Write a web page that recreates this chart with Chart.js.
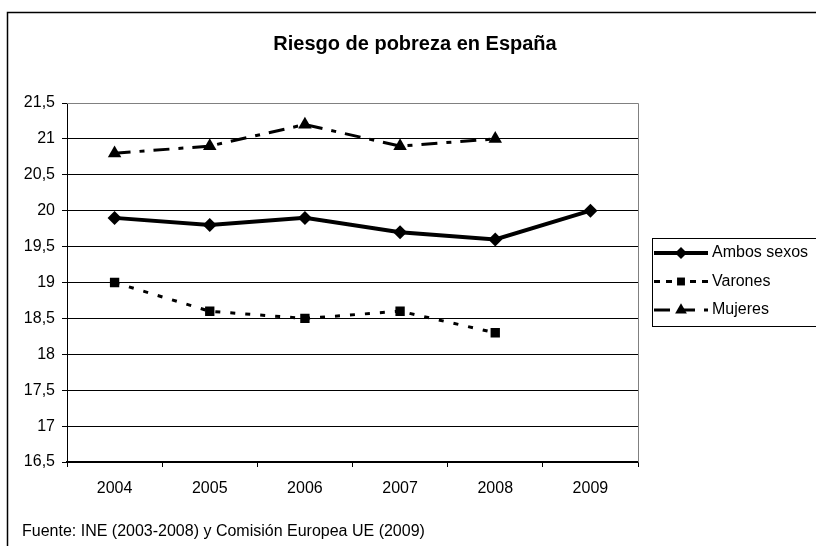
<!DOCTYPE html>
<html>
<head>
<meta charset="utf-8">
<script src="https://cdn.jsdelivr.net/npm/chart.js@4/dist/chart.umd.min.js"></script>
<style>
    body { margin: 0; background: #ffffff; }
    canvas { display: block; }
</style>
</head>
<body>
<canvas id="povertyChart" width="816" height="546"></canvas>
<script>
// Chart data
const years = ['2004', '2005', '2006', '2007', '2008', '2009'];
const ambosSexos = [19.9, 19.8, 19.9, 19.7, 19.6, 20.0];
const varones = [19.0, 18.6, 18.5, 18.6, 18.3, null];
const mujeres = [20.8, 20.9, 21.2, 20.9, 21.0, null];
const yTicks = [16.5, 17, 17.5, 18, 18.5, 19, 19.5, 20, 20.5, 21, 21.5];
const chartTitle = 'Riesgo de pobreza en España';
const sourceNote = 'Fuente: INE (2003-2008) y Comisión Europea UE (2009)';

const FONT = '"Liberation Sans", Arial, sans-serif';

// Draw a legend marker like the ones on the lines
function drawMarker(ctx, style, radius, x, y) {
    ctx.save();
    ctx.fillStyle = '#000';
    ctx.beginPath();
    if (style === 'rectRot') {
        ctx.moveTo(x, y - radius);
        ctx.lineTo(x + radius, y);
        ctx.lineTo(x, y + radius);
        ctx.lineTo(x - radius, y);
    } else if (style === 'rect') {
        const s = radius * Math.SQRT1_2;
        ctx.rect(x - s, y - s, 2 * s, 2 * s);
    } else {
        const h = radius * 1.5;
        const w = radius * Math.sqrt(3) / 2;
        ctx.moveTo(x, y - radius);
        ctx.lineTo(x + w, y + h - radius);
        ctx.lineTo(x - w, y + h - radius);
    }
    ctx.closePath();
    ctx.fill();
    ctx.restore();
}

// Frame, title, footer and boxed legend
const excelFrame = {
    id: 'excelFrame',
    beforeDraw(chart) {
        const ctx = chart.ctx;
        ctx.save();
        ctx.fillStyle = '#ffffff';
        ctx.fillRect(0, 0, chart.width, chart.height);
        ctx.restore();
    },
    afterDraw(chart) {
        const ctx = chart.ctx;
        const area = chart.chartArea;
        ctx.save();

        // outer chart border
        ctx.strokeStyle = '#000';
        ctx.lineWidth = 1.5;
        ctx.strokeRect(7.5, 12.5, chart.width + 10, chart.height + 10);

        // plot area border (top/right)
        ctx.strokeStyle = '#808080';
        ctx.lineWidth = 1;
        ctx.beginPath();
        ctx.moveTo(area.left, area.top + 0.5);
        ctx.lineTo(area.right + 0.5, area.top + 0.5);
        ctx.lineTo(area.right + 0.5, area.bottom);
        ctx.stroke();

        // title
        ctx.fillStyle = '#000';
        ctx.font = 'bold 20px ' + FONT;
        ctx.textAlign = 'center';
        ctx.textBaseline = 'middle';
        ctx.fillText(chartTitle, 415, 44);

        // source note
        ctx.font = '16px ' + FONT;
        ctx.textAlign = 'left';
        ctx.fillText(sourceNote, 22, 532);

        // legend
        ctx.strokeStyle = '#000';
        ctx.lineWidth = 1;
        ctx.strokeRect(652.5, 238.5, 180, 88);
        const legendDash = [[], [6, 6], [16, 9]];
        chart.data.datasets.forEach((ds, i) => {
            const y = 253 + i * 28.5;
            ctx.save();
            ctx.strokeStyle = '#000';
            ctx.lineWidth = ds.borderWidth;
            ctx.setLineDash(legendDash[i]);
            ctx.beginPath();
            ctx.moveTo(654, y);
            ctx.lineTo(708, y);
            ctx.stroke();
            ctx.restore();
            drawMarker(ctx, ds.pointStyle, ds.pointRadius - 1, 681, y);
            ctx.fillStyle = '#000';
            ctx.font = '16px ' + FONT;
            ctx.textAlign = 'left';
            ctx.textBaseline = 'middle';
            ctx.fillText(ds.label, 712, y);
        });
        ctx.restore();
    }
};

const ctx = document.getElementById('povertyChart').getContext('2d');

new Chart(ctx, {
    type: 'line',
    data: {
        labels: years,
        datasets: [{
            label: 'Ambos sexos',
            data: ambosSexos,
            borderColor: '#000',
            backgroundColor: '#000',
            borderWidth: 4,
            pointStyle: 'rectRot',
            pointRadius: 7,
            pointBorderWidth: 0
        }, {
            label: 'Varones',
            data: varones,
            borderColor: '#000',
            backgroundColor: '#000',
            borderWidth: 3,
            borderDash: [5, 10],
            pointStyle: 'rect',
            pointRadius: 6.6,
            pointBorderWidth: 0
        }, {
            label: 'Mujeres',
            data: mujeres,
            borderColor: '#000',
            backgroundColor: '#000',
            borderWidth: 3,
            borderDash: [16, 9, 5, 9],
            pointStyle: 'triangle',
            pointRadius: 7.8,
            pointBorderWidth: 0
        }]
    },
    options: {
        responsive: false,
        animation: false,
        spanGaps: false,
        layout: {
            padding: { top: 103, left: 0, right: 178, bottom: 44 }
        },
        plugins: {
            legend: { display: false },
            title: { display: false },
            tooltip: { enabled: false }
        },
        scales: {
            x: {
                offset: true,
                afterFit: s => { s.height = 40; },
                grid: {
                    offset: true,
                    drawOnChartArea: false,
                    color: '#000',
                    tickLength: 5
                },
                border: { color: '#000', width: 1.5 },
                ticks: {
                    color: '#000',
                    padding: 12,
                    font: { family: FONT, size: 16 }
                }
            },
            y: {
                min: 16.5,
                max: 21.5,
                afterFit: s => { s.width = 67; },
                afterBuildTicks: s => { s.ticks = yTicks.map(v => ({ value: v })); },
                grid: {
                    color: c => (c.tick && c.tick.value === 21.5) ? '#808080' : '#000',
                    tickColor: '#000',
                    tickLength: 5
                },
                border: { color: '#000', width: 1 },
                ticks: {
                    color: '#000',
                    padding: 7,
                    font: { family: FONT, size: 16 },
                    callback: v => String(v).replace('.', ',')
                }
            }
        }
    },
    plugins: [excelFrame]
});
</script>
</body>
</html>
